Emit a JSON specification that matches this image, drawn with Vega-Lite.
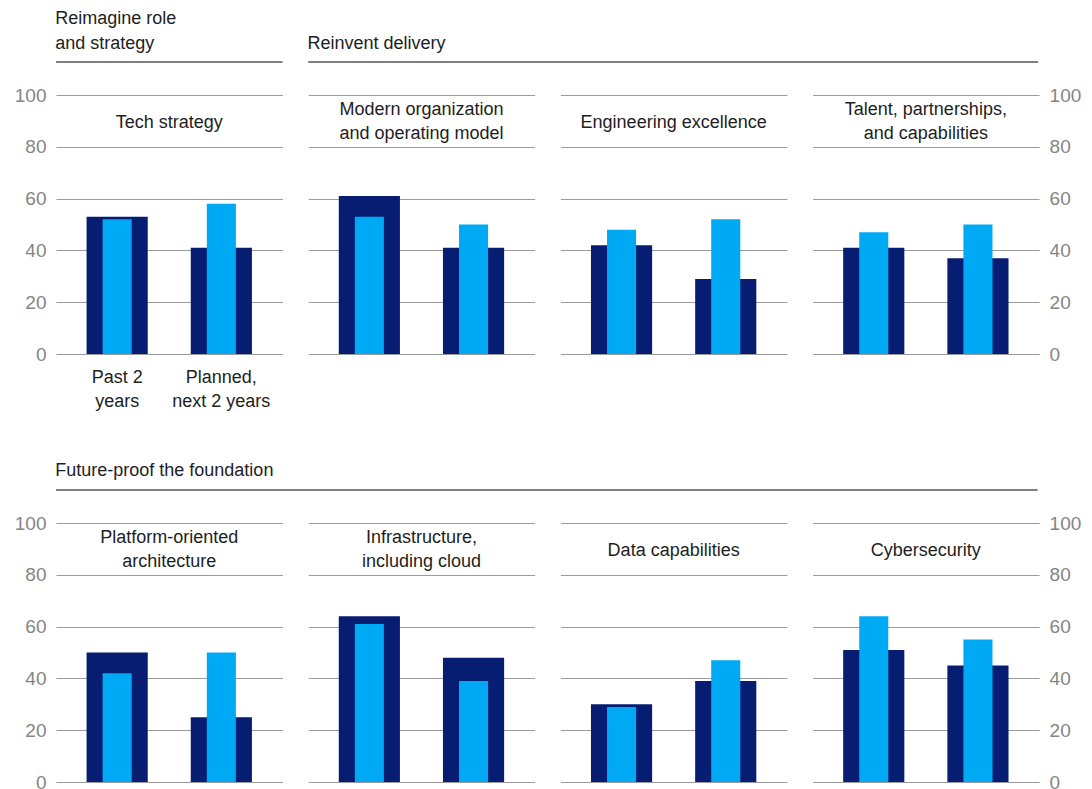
{
  "$schema": "https://vega.github.io/schema/vega-lite/v6.json",
  "padding": {"left": 14, "top": 10, "right": 10, "bottom": 5},
  "background": "white",
  "datasets": {
    "bars": [
      {"panel": "tech", "period": "Past 2 years", "dark": 53, "light": 52},
      {"panel": "tech", "period": "Planned, next 2 years", "dark": 41, "light": 58},
      {"panel": "org", "period": "Past 2 years", "dark": 61, "light": 53},
      {"panel": "org", "period": "Planned, next 2 years", "dark": 41, "light": 50},
      {"panel": "eng", "period": "Past 2 years", "dark": 42, "light": 48},
      {"panel": "eng", "period": "Planned, next 2 years", "dark": 29, "light": 52},
      {"panel": "talent", "period": "Past 2 years", "dark": 41, "light": 47},
      {"panel": "talent", "period": "Planned, next 2 years", "dark": 37, "light": 50},
      {"panel": "platform", "period": "Past 2 years", "dark": 50, "light": 42},
      {"panel": "platform", "period": "Planned, next 2 years", "dark": 25, "light": 50},
      {"panel": "infra", "period": "Past 2 years", "dark": 64, "light": 61},
      {"panel": "infra", "period": "Planned, next 2 years", "dark": 48, "light": 39},
      {"panel": "data", "period": "Past 2 years", "dark": 30, "light": 29},
      {"panel": "data", "period": "Planned, next 2 years", "dark": 39, "light": 47},
      {"panel": "cyber", "period": "Past 2 years", "dark": 51, "light": 64},
      {"panel": "cyber", "period": "Planned, next 2 years", "dark": 45, "light": 55}
    ],
    "titles": [
      {"panel": "tech", "title": "Tech strategy"},
      {"panel": "org", "title": "Modern organization\nand operating model"},
      {"panel": "eng", "title": "Engineering excellence"},
      {"panel": "talent", "title": "Talent, partnerships,\nand capabilities"},
      {"panel": "platform", "title": "Platform-oriented\narchitecture"},
      {"panel": "infra", "title": "Infrastructure,\nincluding cloud"},
      {"panel": "data", "title": "Data capabilities"},
      {"panel": "cyber", "title": "Cybersecurity"}
    ],
    "one": [{"row": 1}]
  },
  "config": {
    "font": "Liberation Sans",
    "view": {"stroke": null},
    "axis": {"gridColor": "#9b9b9b", "gridWidth": 1, "labelFont": "Liberation Sans", "labelFontSize": 19, "labelColor": "#858585", "domain": false, "ticks": false, "title": null},
    "title": {"font": "Liberation Sans", "fontSize": 18, "fontWeight": "normal", "color": "#1e1e1e", "anchor": "start", "lineHeight": 25, "offset": 8}
  },
  "spacing": 23,
  "vconcat": [
    {
      "bounds": "flush",
      "spacing": 25.2,
      "hconcat": [
        {"width": 226.5, "height": 1, "data": {"name": "one"}, "title": {"text": ["Reimagine role", "and strategy"]},
         "mark": {"type": "rule", "color": "#555555", "strokeWidth": 1.5},
         "encoding": {"y": {"datum": 0, "type": "quantitative", "scale": {"domain": [0, 1]}, "axis": null}}},
        {"width": 729.9, "height": 1, "data": {"name": "one"}, "title": {"text": "Reinvent delivery"},
         "mark": {"type": "rule", "color": "#555555", "strokeWidth": 1.5},
         "encoding": {"y": {"datum": 0, "type": "quantitative", "scale": {"domain": [0, 1]}, "axis": null}}}
      ]
    },
    {
      "bounds": "flush",
      "spacing": 25.2,
      "hconcat": [
        {"width": 226.5, "height": 259, "resolve": {"scale": {"x": "independent"}},
         "layer": [
           {"data": {"name": "bars"}, "transform": [{"filter": "datum.panel == 'tech'"}],
            "mark": {"type": "bar", "width": {"band": 0.587}, "color": "#061d72"},
            "encoding": {
              "x": {"field": "period", "type": "nominal", "sort": ["Past 2 years", "Planned, next 2 years"], "scale": {"paddingInner": 0, "paddingOuter": 0.087},
                    "axis": {"labelAngle": 0, "labelPadding": 14, "labelFontSize": 18, "labelColor": "#1e1e1e", "labelLineHeight": 24, "labelExpr": "datum.value == 'Past 2 years' ? ['Past 2', 'years'] : ['Planned,', 'next 2 years']"}},
              "y": {"field": "dark", "type": "quantitative", "scale": {"domain": [0, 100]}, "axis": {"orient": "left", "values": [0, 20, 40, 60, 80, 100], "labelPadding": 10, "grid": true}}
            }},
           {"data": {"name": "bars"}, "transform": [{"filter": "datum.panel == 'tech'"}],
            "mark": {"type": "bar", "width": {"band": 0.279}, "color": "#00a9f4"},
            "encoding": {
              "x": {"field": "period", "type": "nominal", "sort": ["Past 2 years", "Planned, next 2 years"], "scale": {"paddingInner": 0, "paddingOuter": 0.087}, "axis": null},
              "y": {"field": "light", "type": "quantitative"}
            }},
           {"data": {"name": "titles"}, "transform": [{"filter": "datum.panel == 'tech'"}],
            "mark": {"type": "text", "fontSize": 18, "color": "#1e1e1e", "lineBreak": "\n", "lineHeight": 24, "baseline": "middle", "align": "center", "dy": 2},
            "encoding": {"x": {"datum": 0.5, "type": "quantitative", "scale": {"domain": [0, 1]}, "axis": null}, "y": {"datum": 90, "type": "quantitative"}, "text": {"field": "title"}}}
         ]},
        {"width": 226.5, "height": 259, "resolve": {"scale": {"x": "independent"}},
         "layer": [
           {"data": {"name": "bars"}, "transform": [{"filter": "datum.panel == 'org'"}],
            "mark": {"type": "bar", "width": {"band": 0.587}, "color": "#061d72"},
            "encoding": {
              "x": {"field": "period", "type": "nominal", "sort": ["Past 2 years", "Planned, next 2 years"], "scale": {"paddingInner": 0, "paddingOuter": 0.087}, "axis": null},
              "y": {"field": "dark", "type": "quantitative", "scale": {"domain": [0, 100]}, "axis": {"values": [0, 20, 40, 60, 80, 100], "labels": false, "grid": true}}
            }},
           {"data": {"name": "bars"}, "transform": [{"filter": "datum.panel == 'org'"}],
            "mark": {"type": "bar", "width": {"band": 0.279}, "color": "#00a9f4"},
            "encoding": {
              "x": {"field": "period", "type": "nominal", "sort": ["Past 2 years", "Planned, next 2 years"], "scale": {"paddingInner": 0, "paddingOuter": 0.087}, "axis": null},
              "y": {"field": "light", "type": "quantitative"}
            }},
           {"data": {"name": "titles"}, "transform": [{"filter": "datum.panel == 'org'"}],
            "mark": {"type": "text", "fontSize": 18, "color": "#1e1e1e", "lineBreak": "\n", "lineHeight": 24, "baseline": "middle", "align": "center", "dy": -11},
            "encoding": {"x": {"datum": 0.5, "type": "quantitative", "scale": {"domain": [0, 1]}, "axis": null}, "y": {"datum": 90, "type": "quantitative"}, "text": {"field": "title"}}}
         ]},
        {"width": 226.5, "height": 259, "resolve": {"scale": {"x": "independent"}},
         "layer": [
           {"data": {"name": "bars"}, "transform": [{"filter": "datum.panel == 'eng'"}],
            "mark": {"type": "bar", "width": {"band": 0.587}, "color": "#061d72"},
            "encoding": {
              "x": {"field": "period", "type": "nominal", "sort": ["Past 2 years", "Planned, next 2 years"], "scale": {"paddingInner": 0, "paddingOuter": 0.087}, "axis": null},
              "y": {"field": "dark", "type": "quantitative", "scale": {"domain": [0, 100]}, "axis": {"values": [0, 20, 40, 60, 80, 100], "labels": false, "grid": true}}
            }},
           {"data": {"name": "bars"}, "transform": [{"filter": "datum.panel == 'eng'"}],
            "mark": {"type": "bar", "width": {"band": 0.279}, "color": "#00a9f4"},
            "encoding": {
              "x": {"field": "period", "type": "nominal", "sort": ["Past 2 years", "Planned, next 2 years"], "scale": {"paddingInner": 0, "paddingOuter": 0.087}, "axis": null},
              "y": {"field": "light", "type": "quantitative"}
            }},
           {"data": {"name": "titles"}, "transform": [{"filter": "datum.panel == 'eng'"}],
            "mark": {"type": "text", "fontSize": 18, "color": "#1e1e1e", "lineBreak": "\n", "lineHeight": 24, "baseline": "middle", "align": "center", "dy": 2},
            "encoding": {"x": {"datum": 0.5, "type": "quantitative", "scale": {"domain": [0, 1]}, "axis": null}, "y": {"datum": 90, "type": "quantitative"}, "text": {"field": "title"}}}
         ]},
        {"width": 226.5, "height": 259, "resolve": {"scale": {"x": "independent"}},
         "layer": [
           {"data": {"name": "bars"}, "transform": [{"filter": "datum.panel == 'talent'"}],
            "mark": {"type": "bar", "width": {"band": 0.587}, "color": "#061d72"},
            "encoding": {
              "x": {"field": "period", "type": "nominal", "sort": ["Past 2 years", "Planned, next 2 years"], "scale": {"paddingInner": 0, "paddingOuter": 0.087}, "axis": null},
              "y": {"field": "dark", "type": "quantitative", "scale": {"domain": [0, 100]}, "axis": {"orient": "right", "values": [0, 20, 40, 60, 80, 100], "labelPadding": 10, "grid": true}}
            }},
           {"data": {"name": "bars"}, "transform": [{"filter": "datum.panel == 'talent'"}],
            "mark": {"type": "bar", "width": {"band": 0.279}, "color": "#00a9f4"},
            "encoding": {
              "x": {"field": "period", "type": "nominal", "sort": ["Past 2 years", "Planned, next 2 years"], "scale": {"paddingInner": 0, "paddingOuter": 0.087}, "axis": null},
              "y": {"field": "light", "type": "quantitative"}
            }},
           {"data": {"name": "titles"}, "transform": [{"filter": "datum.panel == 'talent'"}],
            "mark": {"type": "text", "fontSize": 18, "color": "#1e1e1e", "lineBreak": "\n", "lineHeight": 24, "baseline": "middle", "align": "center", "dy": -11},
            "encoding": {"x": {"datum": 0.5, "type": "quantitative", "scale": {"domain": [0, 1]}, "axis": null}, "y": {"datum": 90, "type": "quantitative"}, "text": {"field": "title"}}}
         ]}
      ]
    },
    {"width": 981.6, "height": 57, "data": {"name": "one"}, "title": {"text": "Future-proof the foundation", "offset": -47},
     "mark": {"type": "rule", "color": "#555555", "strokeWidth": 1.5},
     "encoding": {"y": {"datum": 0, "type": "quantitative", "scale": {"domain": [0, 1]}, "axis": null}}},
    {
      "bounds": "flush",
      "spacing": 25.2,
      "hconcat": [
        {"width": 226.5, "height": 259, "resolve": {"scale": {"x": "independent"}},
         "layer": [
           {"data": {"name": "bars"}, "transform": [{"filter": "datum.panel == 'platform'"}],
            "mark": {"type": "bar", "width": {"band": 0.587}, "color": "#061d72"},
            "encoding": {
              "x": {"field": "period", "type": "nominal", "sort": ["Past 2 years", "Planned, next 2 years"], "scale": {"paddingInner": 0, "paddingOuter": 0.087}, "axis": null},
              "y": {"field": "dark", "type": "quantitative", "scale": {"domain": [0, 100]}, "axis": {"orient": "left", "values": [0, 20, 40, 60, 80, 100], "labelPadding": 10, "grid": true}}
            }},
           {"data": {"name": "bars"}, "transform": [{"filter": "datum.panel == 'platform'"}],
            "mark": {"type": "bar", "width": {"band": 0.279}, "color": "#00a9f4"},
            "encoding": {
              "x": {"field": "period", "type": "nominal", "sort": ["Past 2 years", "Planned, next 2 years"], "scale": {"paddingInner": 0, "paddingOuter": 0.087}, "axis": null},
              "y": {"field": "light", "type": "quantitative"}
            }},
           {"data": {"name": "titles"}, "transform": [{"filter": "datum.panel == 'platform'"}],
            "mark": {"type": "text", "fontSize": 18, "color": "#1e1e1e", "lineBreak": "\n", "lineHeight": 24, "baseline": "middle", "align": "center", "dy": -11},
            "encoding": {"x": {"datum": 0.5, "type": "quantitative", "scale": {"domain": [0, 1]}, "axis": null}, "y": {"datum": 90, "type": "quantitative"}, "text": {"field": "title"}}}
         ]},
        {"width": 226.5, "height": 259, "resolve": {"scale": {"x": "independent"}},
         "layer": [
           {"data": {"name": "bars"}, "transform": [{"filter": "datum.panel == 'infra'"}],
            "mark": {"type": "bar", "width": {"band": 0.587}, "color": "#061d72"},
            "encoding": {
              "x": {"field": "period", "type": "nominal", "sort": ["Past 2 years", "Planned, next 2 years"], "scale": {"paddingInner": 0, "paddingOuter": 0.087}, "axis": null},
              "y": {"field": "dark", "type": "quantitative", "scale": {"domain": [0, 100]}, "axis": {"values": [0, 20, 40, 60, 80, 100], "labels": false, "grid": true}}
            }},
           {"data": {"name": "bars"}, "transform": [{"filter": "datum.panel == 'infra'"}],
            "mark": {"type": "bar", "width": {"band": 0.279}, "color": "#00a9f4"},
            "encoding": {
              "x": {"field": "period", "type": "nominal", "sort": ["Past 2 years", "Planned, next 2 years"], "scale": {"paddingInner": 0, "paddingOuter": 0.087}, "axis": null},
              "y": {"field": "light", "type": "quantitative"}
            }},
           {"data": {"name": "titles"}, "transform": [{"filter": "datum.panel == 'infra'"}],
            "mark": {"type": "text", "fontSize": 18, "color": "#1e1e1e", "lineBreak": "\n", "lineHeight": 24, "baseline": "middle", "align": "center", "dy": -11},
            "encoding": {"x": {"datum": 0.5, "type": "quantitative", "scale": {"domain": [0, 1]}, "axis": null}, "y": {"datum": 90, "type": "quantitative"}, "text": {"field": "title"}}}
         ]},
        {"width": 226.5, "height": 259, "resolve": {"scale": {"x": "independent"}},
         "layer": [
           {"data": {"name": "bars"}, "transform": [{"filter": "datum.panel == 'data'"}],
            "mark": {"type": "bar", "width": {"band": 0.587}, "color": "#061d72"},
            "encoding": {
              "x": {"field": "period", "type": "nominal", "sort": ["Past 2 years", "Planned, next 2 years"], "scale": {"paddingInner": 0, "paddingOuter": 0.087}, "axis": null},
              "y": {"field": "dark", "type": "quantitative", "scale": {"domain": [0, 100]}, "axis": {"values": [0, 20, 40, 60, 80, 100], "labels": false, "grid": true}}
            }},
           {"data": {"name": "bars"}, "transform": [{"filter": "datum.panel == 'data'"}],
            "mark": {"type": "bar", "width": {"band": 0.279}, "color": "#00a9f4"},
            "encoding": {
              "x": {"field": "period", "type": "nominal", "sort": ["Past 2 years", "Planned, next 2 years"], "scale": {"paddingInner": 0, "paddingOuter": 0.087}, "axis": null},
              "y": {"field": "light", "type": "quantitative"}
            }},
           {"data": {"name": "titles"}, "transform": [{"filter": "datum.panel == 'data'"}],
            "mark": {"type": "text", "fontSize": 18, "color": "#1e1e1e", "lineBreak": "\n", "lineHeight": 24, "baseline": "middle", "align": "center", "dy": 2},
            "encoding": {"x": {"datum": 0.5, "type": "quantitative", "scale": {"domain": [0, 1]}, "axis": null}, "y": {"datum": 90, "type": "quantitative"}, "text": {"field": "title"}}}
         ]},
        {"width": 226.5, "height": 259, "resolve": {"scale": {"x": "independent"}},
         "layer": [
           {"data": {"name": "bars"}, "transform": [{"filter": "datum.panel == 'cyber'"}],
            "mark": {"type": "bar", "width": {"band": 0.587}, "color": "#061d72"},
            "encoding": {
              "x": {"field": "period", "type": "nominal", "sort": ["Past 2 years", "Planned, next 2 years"], "scale": {"paddingInner": 0, "paddingOuter": 0.087}, "axis": null},
              "y": {"field": "dark", "type": "quantitative", "scale": {"domain": [0, 100]}, "axis": {"orient": "right", "values": [0, 20, 40, 60, 80, 100], "labelPadding": 10, "grid": true}}
            }},
           {"data": {"name": "bars"}, "transform": [{"filter": "datum.panel == 'cyber'"}],
            "mark": {"type": "bar", "width": {"band": 0.279}, "color": "#00a9f4"},
            "encoding": {
              "x": {"field": "period", "type": "nominal", "sort": ["Past 2 years", "Planned, next 2 years"], "scale": {"paddingInner": 0, "paddingOuter": 0.087}, "axis": null},
              "y": {"field": "light", "type": "quantitative"}
            }},
           {"data": {"name": "titles"}, "transform": [{"filter": "datum.panel == 'cyber'"}],
            "mark": {"type": "text", "fontSize": 18, "color": "#1e1e1e", "lineBreak": "\n", "lineHeight": 24, "baseline": "middle", "align": "center", "dy": 2},
            "encoding": {"x": {"datum": 0.5, "type": "quantitative", "scale": {"domain": [0, 1]}, "axis": null}, "y": {"datum": 90, "type": "quantitative"}, "text": {"field": "title"}}}
         ]}
      ]
    }
  ]
}
